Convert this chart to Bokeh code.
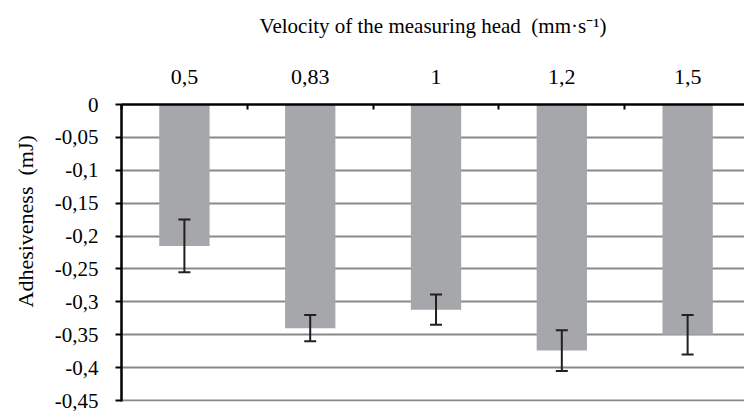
from bokeh.plotting import figure
from bokeh.models import (Range1d, FixedTicker, CustomJSTickFormatter, ColumnDataSource,
                          Whisker, TeeHead, Title)
from bokeh.embed import file_html
from bokeh.resources import INLINE

# ---- data ----
velocities = ["0,5", "0,83", "1", "1,2", "1,5"]
adhesiveness = [-0.215, -0.340, -0.312, -0.374, -0.350]
error = [0.040, 0.020, 0.023, 0.031, 0.030]
y_ticks = [0, -0.05, -0.1, -0.15, -0.2, -0.25, -0.3, -0.35, -0.4, -0.45]
x_title = "Velocity of the measuring head\u00a0 (mm\u00b7s\u207b\u00b9)"
y_title = "Adhesiveness\u00a0 (mJ)"

FONT = "Liberation Serif"

x_pos = [i + 0.5 for i in range(len(velocities))]
boundaries = [float(i) for i in range(len(velocities) + 1)]
src = ColumnDataSource(dict(
    x=x_pos, top=adhesiveness,
    upper=[a + e for a, e in zip(adhesiveness, error)],
    lower=[a - e for a, e in zip(adhesiveness, error)],
))

p = figure(width=744, height=411, output_backend="svg", toolbar_location=None,
           x_axis_location="above", y_range=Range1d(-0.4515, 0),
           x_range=Range1d(0, 4.952),
           min_border_left=120, min_border_right=0, min_border_top=104, min_border_bottom=10)
p.outline_line_color = None
p.background_fill_color = "white"
p.border_fill_color = "white"

p.vbar(x="x", top="top", bottom=0, width=0.4, source=src,
       fill_color="#a6a7ab", line_color=None)

w = Whisker(base="x", upper="upper", lower="lower", source=src, level="overlay",
            line_color="#231f20", line_width=2,
            upper_head=TeeHead(size=12, line_color="#231f20", line_width=2),
            lower_head=TeeHead(size=12, line_color="#231f20", line_width=2))
p.add_layout(w)

# grid
p.xgrid.visible = False
p.ygrid.ticker = FixedTicker(ticks=y_ticks)
p.ygrid.grid_line_color = "#898989"
p.ygrid.grid_line_width = 2

# x axis (top)
xa = p.xaxis[0]
xa.ticker = FixedTicker(ticks=x_pos, minor_ticks=boundaries)
xa.major_label_overrides = {x: v for x, v in zip(x_pos, velocities)}
xa.major_tick_in = 0
xa.major_tick_out = 0
xa.minor_tick_in = 5
xa.minor_tick_out = 0
xa.minor_tick_line_color = "black"
xa.minor_tick_line_width = 2
xa.axis_line_color = "black"
xa.axis_line_width = 2.5
xa.major_label_standoff = 21
xa.major_label_text_font = FONT
xa.major_label_text_font_size = "22px"
xa.major_label_text_color = "black"
xa.axis_label = x_title
xa.axis_label_text_font = FONT
xa.axis_label_text_font_size = "21px"
xa.axis_label_text_font_style = "normal"
xa.axis_label_text_color = "black"
xa.axis_label_standoff = 29

# y axis
ya = p.yaxis[0]
ya.ticker = FixedTicker(ticks=y_ticks)
ya.formatter = CustomJSTickFormatter(code="""
const s = (Math.round(tick * 100) / 100).toString();
return s.replace('.', ',');
""")
ya.major_tick_in = 0
ya.major_tick_out = 6
ya.major_tick_line_width = 2
ya.major_tick_line_color = "black"
ya.minor_tick_line_color = None
ya.axis_line_color = "black"
ya.axis_line_width = 2.5
ya.major_label_standoff = 17
ya.major_label_text_font = FONT
ya.major_label_text_font_size = "21px"
ya.major_label_text_color = "black"

t = Title(text=y_title, align="left", vertical_align="top", offset=94, text_font=FONT,
          text_font_size="22px", text_font_style="normal", text_color="black")
if "standoff" in Title.properties():
    t.standoff = 24
p.add_layout(t, "left")

open("out.html", "w").write(file_html(p, INLINE))
